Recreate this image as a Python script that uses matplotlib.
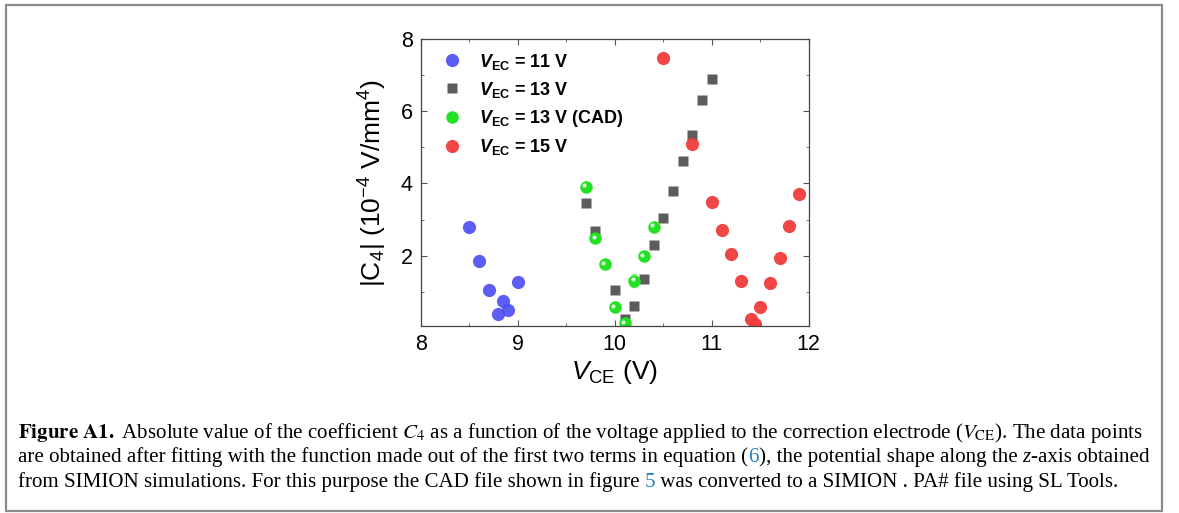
import matplotlib
matplotlib.use('Agg')
import matplotlib.pyplot as plt
import matplotlib.transforms as mtransforms
from matplotlib.patches import Rectangle
from matplotlib.ticker import MultipleLocator

plt.rcParams['font.family'] = ['Liberation Sans', 'DejaVu Sans']
plt.rcParams['mathtext.fontset'] = 'custom'
plt.rcParams['mathtext.rm'] = 'Liberation Sans'
plt.rcParams['mathtext.it'] = 'Liberation Sans:italic'
plt.rcParams['mathtext.bf'] = 'Liberation Sans:bold'
plt.rcParams['mathtext.bfit'] = 'Liberation Sans:italic:bold'

# data
vce_11 = [8.5, 8.6, 8.7, 8.85, 8.8, 8.9, 9.0]
c4_11 = [2.79, 1.86, 1.06, 0.75, 0.39, 0.49, 1.26]

vce_13 = [9.7, 9.8, 10.0, 10.1, 10.2, 10.3, 10.4, 10.5, 10.6, 10.7, 10.8, 10.9, 11.0]
c4_13 = [3.46, 2.69, 1.06, 0.24, 0.61, 1.34, 2.30, 3.04, 3.78, 4.62, 5.33, 6.30, 6.89]

vce_cad = [9.7, 9.8, 9.9, 10.0, 10.1, 10.2, 10.3, 10.4]
c4_cad = [3.90, 2.48, 1.76, 0.57, 0.12, 1.31, 1.98, 2.79]
err_cad = [0.15, 0.05, 0.05, 0.05, 0.05, 0.17, 0.05, 0.08]

vce_15 = [10.5, 10.8, 11.0, 11.1, 11.2, 11.3, 11.4, 11.45, 11.5, 11.6, 11.7, 11.8, 11.9]
c4_15 = [7.47, 5.09, 3.48, 2.72, 2.05, 1.30, 0.25, 0.10, 0.59, 1.24, 1.94, 2.81, 3.72]

labels = [r'$\mathbfit{V}_{\mathbf{EC}}$ = 11 V',
          r'$\mathbfit{V}_{\mathbf{EC}}$ = 13 V',
          r'$\mathbfit{V}_{\mathbf{EC}}$ = 13 V (CAD)',
          r'$\mathbfit{V}_{\mathbf{EC}}$ = 15 V']

fig = plt.figure(figsize=(11.79, 5.13), dpi=100)
ax = fig.add_axes([0.357, 0.3645, 0.329, 0.5595])

blue = '#4b4bf2'
gray = '#5c5c5c'
green = '#22e022'
red = '#f03c3c'

h1, = ax.plot(vce_11, c4_11, 'o', color=blue, ms=9.5, mec='none', alpha=0.9)
h2, = ax.plot(vce_13, c4_13, 's', color=gray, ms=7, mec='none')
ax.errorbar(vce_cad, c4_cad, yerr=err_cad, fmt='none', elinewidth=0.8, capsize=2,
            ecolor='#9be89b')
h3, = ax.plot(vce_cad, c4_cad, 'o', color=green, ms=9, mec='none')
# little highlight on the green spheres
hl = mtransforms.offset_copy(ax.transData, fig=fig, x=-1.2, y=1.2, units='points')
ax.plot(vce_cad, c4_cad, 'o', color='#d8ffd8', ms=3, mec='none', transform=hl)
h4, = ax.plot(vce_15, c4_15, 'o', color=red, ms=9.5, mec='none', alpha=0.95)

ax.set_xlim(8, 12)
ax.set_ylim(0.05, 8)
ax.set_xticks([8, 9, 10, 11, 12])
ax.set_yticks([2, 4, 6, 8])
ax.xaxis.set_minor_locator(MultipleLocator(0.5))
ax.yaxis.set_minor_locator(MultipleLocator(1))
ax.tick_params(which='both', direction='in', top=True, right=True, colors='#555555',
               labelcolor='black', labelsize=15.5, pad=6)
ax.tick_params(which='major', length=4)
ax.tick_params(which='minor', length=2.5)
for s in ax.spines.values():
    s.set_color('#444444')
    s.set_linewidth(0.9)

ax.set_xlabel(r'$V_{\rm CE}$ (V)', fontsize=19, labelpad=2)
ax.set_ylabel(r'|C$_4$| (10$^{-4}$ V/mm$^4$)', fontsize=19, labelpad=8)

ax.legend([h1, h2, h3, h4], labels, loc='upper left', frameon=False,
          prop={'weight': 'bold', 'size': 13},
          handletextpad=0.9, labelspacing=0.45, borderaxespad=0.3,
          handlelength=1.2, bbox_to_anchor=(0.02, 1.0))

# caption and frame
fig.add_artist(Rectangle((0.0055, 0.003), 0.98, 0.988, transform=fig.transFigure,
                         fill=False, edgecolor='#8c8c8c', linewidth=1.6))

cax = fig.add_axes([0, 0, 1, 1])
cax.axis('off')
cax.set_xlim(0, 1)
cax.set_ylim(0, 1)

serif = 'Liberation Serif'
fs = 15.1


def chain(prev, s, color='black', style='normal'):
    return cax.annotate(s, xy=(1, 0), xycoords=prev, va='bottom', ha='left',
                        fontsize=fs, family=serif, color=color, style=style)


cax.text(0.0153, 1 - 438 / 513,
         r'$\mathbf{Figure\ A1.}$ Absolute value of the coefficient $C_4$ as a function of '
         r'the voltage applied to the correction electrode ($V_{\rm CE}$). The data points',
         fontsize=fs, family=serif, math_fontfamily='stix', va='baseline', ha='left')

t = cax.text(0.0153, 1 - 462 / 513,
             'are obtained after fitting with the function made out of the first two terms in equation (',
             fontsize=fs, family=serif, va='baseline', ha='left')
t = chain(t, '6', color='#1f7fc0')
t = chain(t, '), the potential shape along the ')
t = chain(t, 'z', style='italic')
t = chain(t, '-axis obtained')

t = cax.text(0.0153, 1 - 487 / 513,
             'from SIMION simulations. For this purpose the CAD file shown in figure ',
             fontsize=fs, family=serif, va='baseline', ha='left')
t = chain(t, '5', color='#1f7fc0')
t = chain(t, ' was converted to a SIMION . PA# file using SL Tools.')

fig.savefig('out.png', dpi=100)
